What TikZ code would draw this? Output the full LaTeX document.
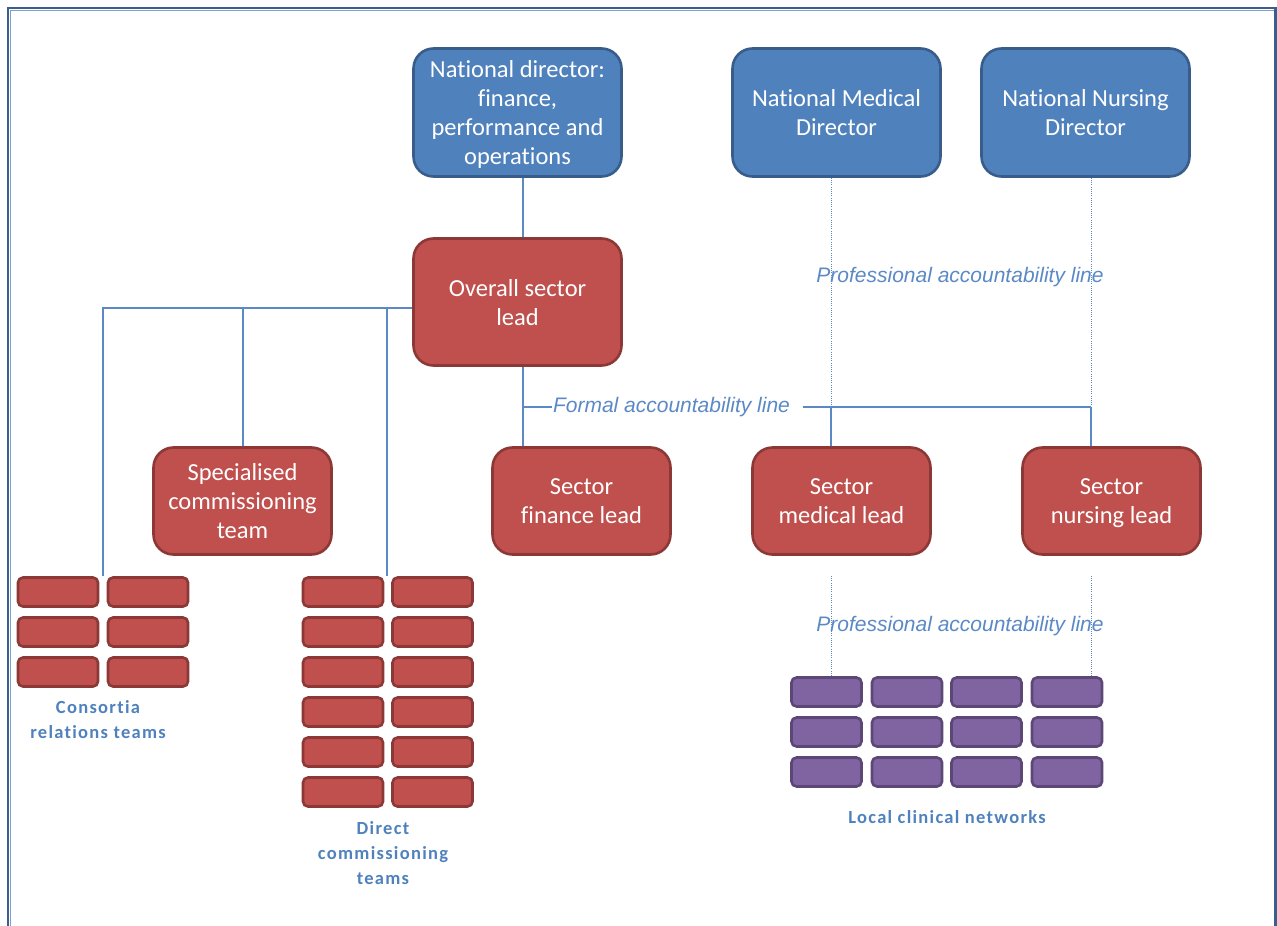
\documentclass[tikz,border=0pt]{standalone}
\usepackage{fontspec}
\setmainfont{Carlito}[RawFeature=-liga]
\newfontfamily\groupfont{Carlito}[LetterSpace=7, RawFeature=-liga]
\newfontfamily\linefont{Liberation Sans}
\definecolor{bluefill}{HTML}{4F81BD}
\definecolor{blueedge}{HTML}{385D8A}
\definecolor{redfill}{HTML}{C0504D}
\definecolor{rededge}{HTML}{8C3836}
\definecolor{purplefill}{HTML}{8064A2}
\definecolor{purpleedge}{HTML}{5C4776}
\definecolor{linkblue}{HTML}{5B89C6}
\definecolor{framedark}{HTML}{3A5F8D}
\definecolor{framelight}{HTML}{7F9FCB}
\tikzset{
  bigbox/.style={draw, line width=2.6pt, rounded corners=20pt, align=center,
    text=white, font=\fontsize{24.5}{29}\selectfont, inner sep=0pt, text depth=0pt},
  bluebox/.style={bigbox, fill=bluefill, draw=blueedge, minimum width=208pt, minimum height=128pt},
  redbox/.style={bigbox, fill=redfill, draw=rededge},
  teambox/.style={draw, line width=2.6pt, rounded corners=5pt, minimum width=80pt, minimum height=29pt, inner sep=0pt},
  redteam/.style={teambox, fill=redfill, draw=rededge},
  purpleteam/.style={teambox, fill=purplefill, draw=purpleedge, minimum width=70pt},
  conn/.style={draw=linkblue, line width=1.2pt},
  profline/.style={draw=linkblue, line width=1pt, dash pattern=on 1pt off 1.2pt},
  linelabel/.style={text=linkblue, font=\linefont\itshape\fontsize{21}{24}\selectfont, inner sep=0pt},
  grouplabel/.style={text=bluefill, font=\groupfont\bfseries\fontsize{18.5}{25}\selectfont, align=center, inner sep=0pt}
}
\begin{document}
\begin{tikzpicture}[x=1pt, y=-1pt]
\useasboundingbox (0,0) rectangle (1277,926);
\clip (0,0) rectangle (1277,926);
% outer frame
\draw[framedark, line width=2.6pt] (8,8) rectangle (1275.5,960);
\draw[framelight, line width=0.8pt] (10,10) -- (1273.5,10);
\draw[framelight, line width=0.8pt] (10,10) -- (10,960);

% directors
\node[bluebox] (nd)  at (517.5,112.5) {National director:\\finance,\\performance and\\operations};
\node[bluebox] (nmd) at (836.5,112.5) {National Medical\\Director};
\node[bluebox] (nnd) at (1085.5,112.5) {National Nursing\\Director};

% sector leads
\node[redbox, minimum width=208pt, minimum height=127pt] (osl) at (517.5,302) {Overall sector\\lead};
\node[redbox, minimum width=178pt, minimum height=107pt] (spec) at (242.5,501) {Specialised\\commissioning\\team};
\node[redbox, minimum width=178pt, minimum height=107pt] (fin) at (581.5,501) {Sector\\finance lead};
\node[redbox, minimum width=178pt, minimum height=107pt] (med) at (841.5,501) {Sector\\medical lead};
\node[redbox, minimum width=178pt, minimum height=107pt] (nur) at (1111.5,501) {Sector\\nursing lead};

% consortia relations teams
\foreach \c/\x in {1/58,2/148}
  \foreach \r in {1,...,3}
    \node[redteam] (cr\c\r) at (\x,{592+40*(\r-1)}) {};
% direct commissioning teams
\foreach \c/\x in {1/343,2/432.5}
  \foreach \r in {1,...,6}
    \node[redteam] (dc\c\r) at (\x,{592+40*(\r-1)}) {};
% local clinical networks
\foreach \c/\x in {1/826.5,2/907,3/986.5,4/1067}
  \foreach \r in {1,...,3}
    \node[purpleteam] (lcn\c\r) at (\x,{692+40*(\r-1)}) {};

\node[grouplabel] (crlab) at (98,720) {Consortia\\relations teams};
\node[grouplabel] (dclab) at (383,853) {Direct\\commissioning\\teams};
\node[grouplabel] (lcnlab) at (947,817) {Local clinical networks};

% formal lines
\coordinate (tcr) at (103,576);
\coordinate (tdc) at (387,576);
\coordinate (jl) at (523,407);
\coordinate (jm) at (831,407);
\coordinate (jn) at (1091,407);
\path[conn] (523,0 |- nd.south) -- (523,0 |- osl.north);
\path[conn] (osl.west |- 0,308) -- (103,308) -- (tcr);
\path[conn] (243,308) -- (243,0 |- spec.north);
\path[conn] (387,308) -- (tdc);
\path[conn] (523,0 |- osl.south) -- (523,0 |- fin.north);
\node[linelabel] (formal) at (671.5,407) {Formal accountability line};
\path[conn] (jl) -- (552,407);
\path[conn] (803,407) -- (jn);
\path[conn] (jm) -- (831,0 |- med.north);
\path[conn] (jn) -- (1091,0 |- nur.north);

% professional lines
\path[profline] (831,0 |- nmd.south) -- (jm);
\path[profline] (1091,0 |- nnd.south) -- (jn);
\node[linelabel] (prof1) at (960,277) {Professional accountability line};
\path[profline] (831,576) -- (831,0 |- lcn11.north);
\path[profline] (1091,576) -- (1091,0 |- lcn41.north);
\node[linelabel] (prof2) at (960,626) {Professional accountability line};
\end{tikzpicture}
\end{document}
